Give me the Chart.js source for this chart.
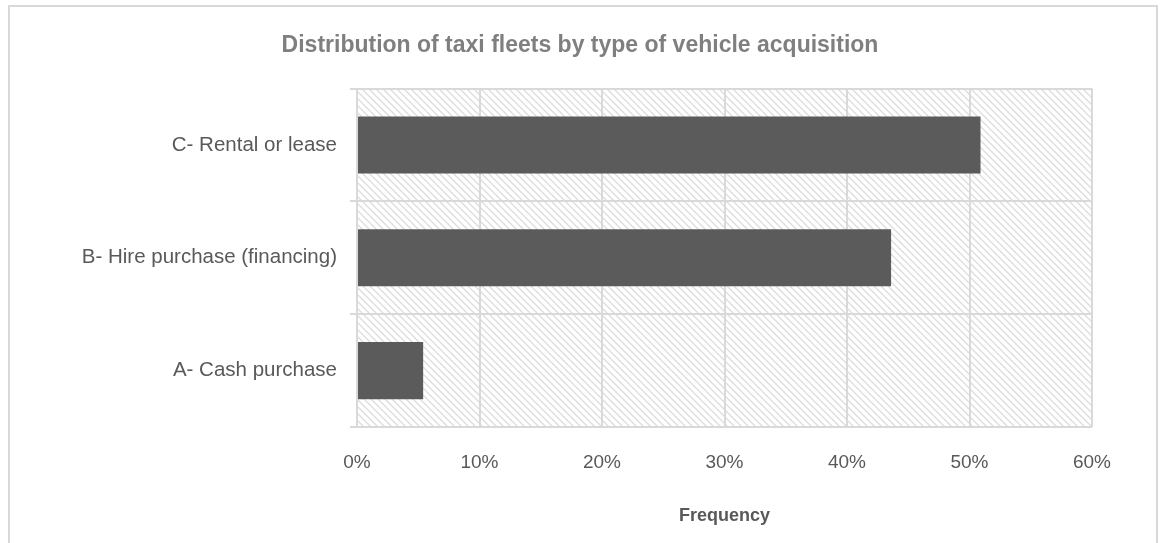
<!DOCTYPE html>
<html>
<head>
<meta charset="utf-8">
<script src="https://cdn.jsdelivr.net/npm/chart.js@4.4.1/dist/chart.umd.min.js"></script>
<style>
  body { margin: 0; background: #fff; }
  #frame { position: absolute; left: 8px; top: 5px; width: 1150px; height: 600px; border: 2px solid #d9d9d9; box-sizing: border-box; }
  #wrap { position: absolute; left: 0; top: 0; width: 1160px; height: 543px; }
</style>
</head>
<body>
<div id="frame"></div>
<div id="wrap"><canvas id="myChart" width="1160" height="543"></canvas></div>
<script>
// chart data
const categories = ['A- Cash purchase', 'B- Hire purchase (financing)', 'C- Rental or lease'];
const frequency = [5.4, 43.6, 50.9];
const xTicks = [0, 10, 20, 30, 40, 50, 60];

const FONT = "'Liberation Sans', Arial, sans-serif";
const GRID = '#d9d9d9';

// diagonal hatch for the plot area
function makeHatch() {
  const c = document.createElement('canvas');
  c.width = 7; c.height = 7;
  const g = c.getContext('2d');
  g.strokeStyle = '#dcdcdc';
  g.lineWidth = 1.3;
  g.beginPath();
  g.moveTo(-1, -1); g.lineTo(8, 8);
  g.moveTo(-8, -1); g.lineTo(1, 8);
  g.moveTo(6, -1); g.lineTo(15, 8);
  g.stroke();
  return c;
}

const hatchBg = {
  id: 'hatchBg',
  beforeDraw(chart) {
    const { ctx, chartArea: a } = chart;
    ctx.save();
    ctx.fillStyle = ctx.createPattern(makeHatch(), 'repeat');
    ctx.fillRect(a.left, a.top, a.right - a.left, a.bottom - a.top);
    ctx.restore();
  }
};

const ctx = document.getElementById('myChart');
new Chart(ctx, {
  type: 'bar',
  data: {
    labels: categories,
    datasets: [{
      label: 'Frequency',
      data: frequency,
      backgroundColor: '#5b5b5b',
      borderWidth: 0,
      categoryPercentage: 0.506,
      barPercentage: 1
    }]
  },
  options: {
    indexAxis: 'y',
    responsive: false,
    animation: false,
    layout: { padding: 0 },
    plugins: {
      legend: { display: false },
      tooltip: { enabled: false },
      title: {
        display: true,
        text: 'Distribution of taxi fleets by type of vehicle acquisition',
        color: '#7f7f7f',
        font: { family: FONT, size: 23, weight: 'bold' },
        padding: { top: 32, bottom: 29 }
      }
    },
    scales: {
      x: {
        min: 0,
        max: 60,
        afterBuildTicks(s) { s.ticks = xTicks.map(v => ({ value: v })); },
        ticks: {
          callback: v => v + '%',
          color: '#595959',
          font: { family: FONT, size: 19 },
          padding: 24,
          maxRotation: 0
        },
        grid: { color: GRID, lineWidth: 2, drawTicks: false },
        border: { display: false },
        title: {
          display: true,
          text: 'Frequency',
          color: '#595959',
          font: { family: FONT, size: 18, weight: 'bold' },
          padding: { top: 0, bottom: 16 }
        },
        afterFit(s) { s.height = 116; s.paddingRight = 68; }
      },
      y: {
        reverse: true,
        ticks: {
          color: '#595959',
          font: { family: FONT, size: 20.5 },
          padding: 13
        },
        grid: { color: GRID, lineWidth: 2, offset: true, tickLength: 7 },
        border: { display: false },
        afterFit(s) { s.width = 357; }
      }
    }
  },
  plugins: [hatchBg]
});
</script>
</body>
</html>
